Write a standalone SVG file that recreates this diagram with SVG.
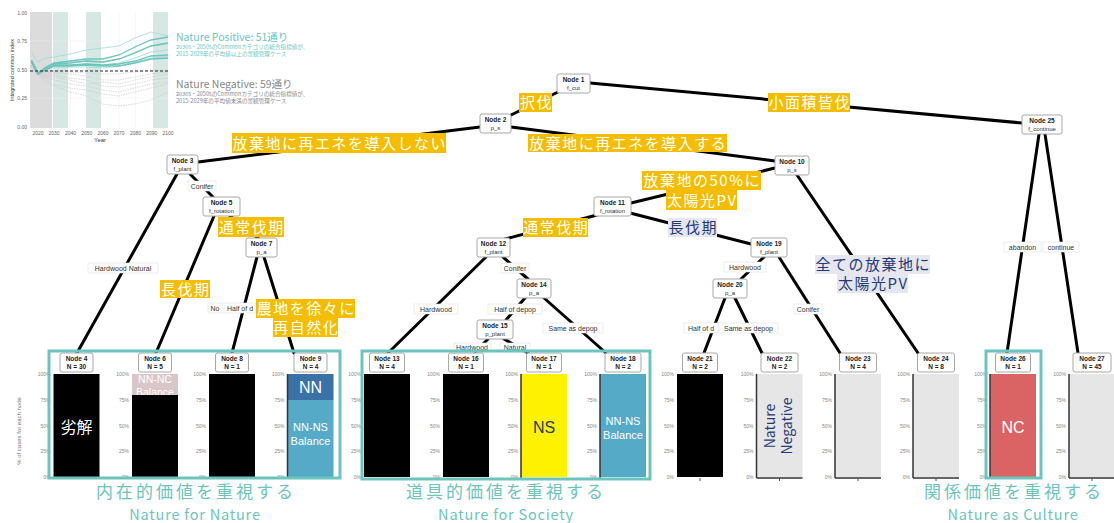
<svg xmlns="http://www.w3.org/2000/svg" width="1114" height="523" viewBox="0 0 1114 523">
<style>
.nb{fill:#fff;stroke:#a8a8a8;stroke-width:1}
.nt{font-family:"Liberation Sans",Arial,sans-serif;font-size:6.5px;font-weight:bold;fill:#222;text-anchor:middle}
.ns{font-family:"Liberation Sans",Arial,sans-serif;font-size:6px;fill:#333;text-anchor:middle}
.ed{stroke:#000;stroke-width:3;stroke-linecap:round;fill:none}
.el rect{fill:#fff;stroke:#e2e2e2;stroke-width:0.6}
.el text{font-family:"Liberation Sans",Arial,sans-serif;font-size:7px;fill:#333;text-anchor:middle}
.yl rect{fill:#f5bd00}
.yl text{font-family:"Noto Sans CJK JP",sans-serif;font-size:15px;fill:#fff;text-anchor:middle;letter-spacing:1.5px}
.bl rect{fill:#e6e6ee}
.bl text{font-family:"Noto Sans CJK JP",sans-serif;font-size:15px;fill:#1f3a78;text-anchor:middle;letter-spacing:1.5px}
.tk{font-family:"Liberation Sans",Arial,sans-serif;font-size:5px;fill:#888;text-anchor:end}
.ax{stroke:#333;stroke-width:1.5}
.bt{font-family:"Liberation Sans",Arial,sans-serif;fill:#fff;text-anchor:middle}
.bj{font-family:"Noto Sans CJK JP",sans-serif;fill:#fff;text-anchor:middle}
.tb{fill:none;stroke:#6cc5bd;stroke-width:3}
.gl{font-family:"Noto Sans CJK JP",sans-serif;fill:#6cc5bd;text-anchor:middle}
.ct{font-family:"Liberation Sans",Arial,sans-serif;font-size:5px;fill:#666}
.tl{fill:none;stroke:#6cc5bd;stroke-width:1.3}
.tl2{fill:none;stroke:#9ddbd3;stroke-width:0.8}
.gy{fill:none;stroke:#c8c8c8;stroke-width:0.7;stroke-dasharray:1.5 1}
</style>

<!-- inset chart -->
<g id="inset">
  <rect x="30" y="12" width="140" height="116" fill="#fff"/>
  <rect x="30" y="12" width="22" height="116" fill="#dcdcdc"/>
  <rect x="53" y="12" width="15" height="116" fill="#d6e8e4"/>
  <rect x="86" y="12" width="15" height="116" fill="#d6e8e4"/>
  <rect x="153" y="12" width="15" height="116" fill="#d6e8e4"/>
  <g stroke="#eeeeee" stroke-width="0.5">
    <line x1="30" y1="41" x2="170" y2="41"/><line x1="30" y1="98" x2="170" y2="98"/>
    <line x1="70.5" y1="12" x2="70.5" y2="128"/><line x1="119" y1="12" x2="119" y2="128"/><line x1="135.5" y1="12" x2="135.5" y2="128"/>
  </g>
  <polyline class="gy" points="31.5,66 34.75,70 38,74 46,78 54,80 70,84 86,86 103,90 119,92 135,88 151,84 168,82"/>
  <polyline class="gy" points="31.5,64 34.75,69 38,73 46,76 54,75 70,78 86,80 103,86 119,87 135,84 151,80 168,78"/>
  <polyline class="gy" points="31.5,62 34.75,68 38,72 46,74 54,73 70,74 86,76 103,80 119,80 135,77 151,74 168,72"/>
  <polyline class="gy" points="31.5,67 34.75,72 38,75 46,82 54,86 70,92 86,96 103,104 119,106 135,104 151,100 168,92"/>
  <polyline class="gy" points="31.5,63 34.75,70 38,73 46,80 54,84 70,88 86,90 103,94 119,96 135,92 151,88 168,84"/>
  <polyline class="gy" points="31.5,65 34.75,71 38,74 46,77 54,77 70,80 86,84 103,82 119,84 135,80 151,77 168,74"/>
  <polyline class="gy" points="31.5,66 34.75,70 38,74 46,72 54,72 70,72 86,73 103,74 119,74 135,72 151,70 168,70"/>
  <polyline class="tl2" points="31.5,52 34.75,58 38,62 46,58 54,57 70,54 86,50 103,48 119,46 135,38 151,32 168,36"/>
  <polyline class="tl2" points="31.5,60 34.75,66 38,73 46,67 54,64 70,62 86,61 103,62 119,59 135,52 151,46 168,44"/>
  <polyline class="tl2" points="31.5,61 34.75,67 38,73 46,68 54,66 70,65 86,64 103,65 119,63 135,58 151,52 168,50"/>
  <polyline class="tl2" points="31.5,62 34.75,67 38,73 46,69 54,67 70,67 86,67 103,68 119,66 135,62 151,58 168,56"/>
  <polyline class="tl" points="31.5,60 34.75,66 38,73 46,67 54,63 70,61 86,59 103,59 119,55 135,47 151,40 168,37"/>
  <polyline class="tl" points="31.5,61 34.75,67 38,73 46,68 54,64 70,63 86,61 103,62 119,59 135,53 151,46 168,43"/>
  <polyline class="tl" points="31.5,62 34.75,68 38,74 46,69 54,65 70,65 86,64 103,65 119,64 135,61 151,56 168,55"/>
  <polyline class="tl" points="31.5,62 34.75,68 38,74 46,70 54,66 70,66 86,65 103,66 119,66 135,63 151,59 168,58"/>
  <line x1="30" y1="71" x2="170" y2="71" stroke="#222" stroke-width="1.2" stroke-dasharray="3 2"/>
  <g class="ct" text-anchor="end">
    <text x="27" y="15">1.00</text><text x="27" y="43">0.75</text><text x="27" y="72">0.50</text><text x="27" y="100">0.25</text><text x="27" y="129">0.00</text>
  </g>
  <g class="ct" text-anchor="middle">
    <text x="38" y="135" text-anchor="middle">2020</text><text x="54" y="135" text-anchor="middle">2030</text><text x="70.5" y="135" text-anchor="middle">2040</text><text x="86.75" y="135" text-anchor="middle">2050</text><text x="103" y="135" text-anchor="middle">2060</text><text x="119" y="135" text-anchor="middle">2070</text><text x="135.5" y="135" text-anchor="middle">2080</text><text x="151.75" y="135" text-anchor="middle">2090</text><text x="168" y="135" text-anchor="middle">2100</text>
  </g>
  <text x="100" y="142" font-family="Liberation Sans, Arial, sans-serif" font-size="6" fill="#444" text-anchor="middle">Year</text>
  <text transform="translate(14,70) rotate(-90)" font-family="Liberation Sans, Arial, sans-serif" font-size="5.5" fill="#444" text-anchor="middle">Integrated common index</text>
  <text x="176" y="41" font-family="Noto Sans CJK JP, sans-serif" font-size="10.5" fill="#6cc5bd">Nature Positive: 51通り</text>
  <text x="176" y="48.5" font-family="Noto Sans CJK JP, sans-serif" font-size="5.6" fill="#6cc5bd">2030s・2050sのCommonカテゴリの統合指標値が、</text>
  <text x="176" y="55.5" font-family="Noto Sans CJK JP, sans-serif" font-size="5.6" fill="#6cc5bd">2015-2029年の平均値以上の景観管理ケース</text>
  <text x="176" y="88" font-family="Noto Sans CJK JP, sans-serif" font-size="10.5" fill="#888">Nature Negative: 59通り</text>
  <text x="176" y="95.5" font-family="Noto Sans CJK JP, sans-serif" font-size="5.6" fill="#888">2030s・2050sのCommonカテゴリの統合指標値が、</text>
  <text x="176" y="102.5" font-family="Noto Sans CJK JP, sans-serif" font-size="5.6" fill="#888">2015-2029年の平均値未満の景観管理ケース</text>
</g>

<!-- connectors -->
<g id="connectors">
  <line class="ed" x1="558" y1="92" x2="511" y2="115"/>
  <line class="ed" x1="590" y1="83" x2="1022" y2="123"/>
  <line class="ed" x1="480" y1="127" x2="198" y2="162"/>
  <line class="ed" x1="511" y1="127" x2="775" y2="161"/>
  <line class="ed" x1="177" y1="174" x2="77" y2="353"/>
  <line class="ed" x1="190" y1="174" x2="213" y2="197"/>
  <line class="ed" x1="214" y1="216" x2="156" y2="353"/>
  <line class="ed" x1="230" y1="216" x2="258" y2="238"/>
  <line class="ed" x1="257" y1="257" x2="232" y2="353"/>
  <line class="ed" x1="264" y1="257" x2="294" y2="353"/>
  <line class="ed" x1="775" y1="168" x2="631" y2="203"/>
  <line class="ed" x1="797" y1="175" x2="918" y2="353"/>
  <line class="ed" x1="597" y1="215" x2="505" y2="239"/>
  <line class="ed" x1="630" y1="213" x2="751" y2="244"/>
  <line class="ed" x1="486" y1="257" x2="388" y2="353"/>
  <line class="ed" x1="503" y1="257" x2="528" y2="279"/>
  <line class="ed" x1="525" y1="298" x2="506" y2="320"/>
  <line class="ed" x1="544" y1="298" x2="606" y2="353"/>
  <line class="ed" x1="488" y1="339" x2="475" y2="352"/>
  <line class="ed" x1="504" y1="339" x2="528" y2="353"/>
  <line class="ed" x1="764" y1="257" x2="741" y2="279"/>
  <line class="ed" x1="779" y1="257" x2="840" y2="353"/>
  <line class="ed" x1="725" y1="298" x2="704" y2="353"/>
  <line class="ed" x1="735" y1="298" x2="762" y2="353"/>
  <line class="ed" x1="1039" y1="134" x2="1007" y2="353"/>
  <line class="ed" x1="1045" y1="134" x2="1078" y2="353"/>
</g>

<!-- edge labels -->
<g id="edge-labels" class="el">
  <rect x="88" y="263" width="70" height="10"/><text x="123" y="270.5">Hardwood Natural</text>
  <rect x="188" y="181" width="28" height="10"/><text x="202" y="188.5">Conifer</text>
  <rect x="208" y="303" width="14" height="10"/><text x="215" y="310.5">No</text>
  <rect x="224" y="303" width="32" height="10"/><text x="240" y="310.5">Half of d</text>
  <rect x="501" y="263" width="28" height="10"/><text x="515" y="270.5">Conifer</text>
  <rect x="414" y="304" width="44" height="10"/><text x="436" y="311.5">Hardwood</text>
  <rect x="488" y="304" width="54" height="10"/><text x="515" y="311.5">Half of depop</text>
  <rect x="543" y="323" width="60" height="10"/><text x="573" y="330.5">Same as depop</text>
  <rect x="454" y="343" width="37" height="9"/><text x="472" y="350">Hardwood</text>
  <rect x="500" y="343" width="30" height="9"/><text x="515" y="350">Natural</text>
  <rect x="724" y="262" width="42" height="10"/><text x="745" y="269.5">Hardwood</text>
  <rect x="684" y="323" width="34" height="10"/><text x="701" y="330.5">Half of d</text>
  <rect x="719" y="323" width="59" height="10"/><text x="748.5" y="330.5">Same as depop</text>
  <rect x="794" y="304" width="28" height="10"/><text x="808" y="311.5">Conifer</text>
  <rect x="1004" y="242" width="37" height="10"/><text x="1022.5" y="249.5">abandon</text>
  <rect x="1043" y="242" width="36" height="10"/><text x="1061" y="249.5">continue</text>
</g>

<!-- highlighted labels -->
<g id="labels">
  <g class="yl">
    <rect x="519" y="93" width="33" height="19"/><text x="536.5" y="108">択伐</text>
    <rect x="768" y="93" width="82" height="19"/><text x="809.75" y="108">小面積皆伐</text>
    <rect x="232" y="133" width="214" height="20"/><text x="339.75" y="148.5">放棄地に再エネを導入しない</text>
    <rect x="528" y="134" width="199" height="18"/><text x="628.25" y="148.5">放棄地に再エネを導入する</text>
    <rect x="218" y="217" width="66" height="20"/><text x="251.75" y="232.5">通常伐期</text>
    <rect x="160" y="280" width="50" height="18"/><text x="185.75" y="294.5">長伐期</text>
    <rect x="256" y="299" width="99" height="19"/><text x="306.25" y="314">農地を徐々に</text>
    <rect x="273" y="318" width="65" height="19"/><text x="306.25" y="333">再自然化</text>
    <rect x="642" y="171" width="119" height="19"/><text x="702.25" y="186">放棄地の50%に</text>
    <rect x="666" y="190" width="71" height="20"/><text x="702.25" y="205.5">太陽光PV</text>
    <rect x="523" y="218" width="65" height="19"/><text x="556.25" y="233">通常伐期</text>
  </g>
  <g class="bl">
    <rect x="668" y="218" width="49" height="19"/><text x="693.25" y="233">長伐期</text>
    <rect x="815" y="255" width="115" height="19"/><text x="873.25" y="270">全ての放棄地に</text>
    <rect x="837" y="274" width="71" height="19"/><text x="873.25" y="289">太陽光PV</text>
  </g>
</g>

<!-- y axis title -->
<text transform="translate(21,431) rotate(-90)" font-family="Liberation Sans, Arial, sans-serif" font-size="6" fill="#777" text-anchor="middle">% of cases for each node</text>

<!-- leaf bars -->
<g id="bars">
  <g id="axes" class="tk">
    <g transform="translate(76.5,0)"><text x="-26" y="376">100%</text><text x="-26" y="402">75%</text><text x="-26" y="428">50%</text><text x="-26" y="453">25%</text><text x="-26" y="479">0%</text></g>
    <g transform="translate(155,0)"><text x="-26" y="376">100%</text><text x="-26" y="402">75%</text><text x="-26" y="428">50%</text><text x="-26" y="453">25%</text><text x="-26" y="479">0%</text></g>
    <g transform="translate(232,0)"><text x="-26" y="376">100%</text><text x="-26" y="402">75%</text><text x="-26" y="428">50%</text><text x="-26" y="453">25%</text><text x="-26" y="479">0%</text></g>
    <g transform="translate(310.5,0)"><text x="-26" y="376">100%</text><text x="-26" y="402">75%</text><text x="-26" y="428">50%</text><text x="-26" y="453">25%</text><text x="-26" y="479">0%</text></g>
    <g transform="translate(387,0)"><text x="-26" y="376">100%</text><text x="-26" y="402">75%</text><text x="-26" y="428">50%</text><text x="-26" y="453">25%</text><text x="-26" y="479">0%</text></g>
    <g transform="translate(466,0)"><text x="-26" y="376">100%</text><text x="-26" y="402">75%</text><text x="-26" y="428">50%</text><text x="-26" y="453">25%</text><text x="-26" y="479">0%</text></g>
    <g transform="translate(544,0)"><text x="-26" y="376">100%</text><text x="-26" y="402">75%</text><text x="-26" y="428">50%</text><text x="-26" y="453">25%</text><text x="-26" y="479">0%</text></g>
    <g transform="translate(623,0)"><text x="-26" y="376">100%</text><text x="-26" y="402">75%</text><text x="-26" y="428">50%</text><text x="-26" y="453">25%</text><text x="-26" y="479">0%</text></g>
    <g transform="translate(700,0)"><text x="-26" y="376">100%</text><text x="-26" y="402">75%</text><text x="-26" y="428">50%</text><text x="-26" y="453">25%</text><text x="-26" y="479">0%</text></g>
    <g transform="translate(779.5,0)"><text x="-26" y="376">100%</text><text x="-26" y="402">75%</text><text x="-26" y="428">50%</text><text x="-26" y="453">25%</text><text x="-26" y="479">0%</text></g>
    <g transform="translate(858,0)"><text x="-26" y="376">100%</text><text x="-26" y="402">75%</text><text x="-26" y="428">50%</text><text x="-26" y="453">25%</text><text x="-26" y="479">0%</text></g>
    <g transform="translate(936,0)"><text x="-26" y="376">100%</text><text x="-26" y="402">75%</text><text x="-26" y="428">50%</text><text x="-26" y="453">25%</text><text x="-26" y="479">0%</text></g>
    <g transform="translate(1013,0)"><text x="-26" y="376">100%</text><text x="-26" y="402">75%</text><text x="-26" y="428">50%</text><text x="-26" y="453">25%</text><text x="-26" y="479">0%</text></g>
    <g transform="translate(1092,0)"><text x="-26" y="376">100%</text><text x="-26" y="402">75%</text><text x="-26" y="428">50%</text><text x="-26" y="453">25%</text><text x="-26" y="479">0%</text></g>
  </g>
  <rect x="53.5" y="374" width="46" height="103" fill="#000"/>
  <text class="bj" x="76.5" y="433" font-size="16">劣解</text>
  <rect x="132" y="374" width="46" height="21" fill="#d9c6c8"/>
  <text class="bt" x="155" y="383" font-size="10.5">NN-NC</text>
  <text class="bt" x="155" y="396" font-size="10.5">Balance</text>
  <rect x="132" y="395" width="46" height="82" fill="#000"/>
  <rect x="209" y="374" width="46" height="103" fill="#000"/>
  <rect x="287.5" y="374" width="46" height="26" fill="#3a72a8"/>
  <rect x="287.5" y="400" width="46" height="77" fill="#55aac8"/>
  <text class="bt" x="310.5" y="393" font-size="16">NN</text>
  <text class="bt" x="310.5" y="431" font-size="11">NN-NS</text>
  <text class="bt" x="310.5" y="445" font-size="11">Balance</text>
  <rect x="364" y="374" width="46" height="103" fill="#000"/>
  <rect x="443" y="374" width="46" height="103" fill="#000"/>
  <rect x="521" y="374" width="46" height="103" fill="#fff200"/>
  <text class="bt" x="544" y="433" font-size="16" style="fill:#1f3a78">NS</text>
  <rect x="600" y="374" width="46" height="103" fill="#55aac8"/>
  <text class="bt" x="623" y="425" font-size="11">NN-NS</text>
  <text class="bt" x="623" y="439" font-size="11">Balance</text>
  <rect x="677" y="374" width="46" height="103" fill="#000"/>
  <rect x="756.5" y="374" width="46" height="103" fill="#e6e6e6"/>
  <text transform="translate(775,426) rotate(-90)" font-family="Noto Sans CJK JP, sans-serif" font-size="14" fill="#1f3a78" text-anchor="middle">Nature</text>
  <text transform="translate(792,426) rotate(-90)" font-family="Noto Sans CJK JP, sans-serif" font-size="14" fill="#1f3a78" text-anchor="middle">Negative</text>
  <rect x="835" y="374" width="46" height="103" fill="#e6e6e6"/>
  <rect x="913" y="374" width="46" height="103" fill="#e6e6e6"/>
  <rect x="990" y="374" width="46" height="103" fill="#da6464"/>
  <text class="bt" x="1013" y="433" font-size="16">NC</text>
  <rect x="1069" y="374" width="46" height="103" fill="#e6e6e6"/>
  <g class="ax">
    <line x1="756.5" y1="374" x2="756.5" y2="478"/><line x1="835" y1="374" x2="835" y2="478"/>
    <line x1="913" y1="374" x2="913" y2="478"/><line x1="990" y1="374" x2="990" y2="478"/>
    <line x1="1069" y1="374" x2="1069" y2="478"/><line x1="287.5" y1="374" x2="287.5" y2="478"/>
    <line x1="521" y1="374" x2="521" y2="478"/><line x1="600" y1="374" x2="600" y2="478"/>
    <line x1="756.5" y1="478" x2="802.5" y2="478"/><line x1="835" y1="478" x2="881" y2="478"/>
    <line x1="913" y1="478" x2="959" y2="478"/><line x1="1069" y1="478" x2="1114" y2="478"/>
  </g>
  <g stroke="#555" stroke-width="1">
    <line x1="779.5" y1="478" x2="779.5" y2="481"/><line x1="858" y1="478" x2="858" y2="481"/>
    <line x1="936" y1="478" x2="936" y2="481"/><line x1="1092" y1="478" x2="1092" y2="481"/>
    <line x1="700" y1="478" x2="700" y2="481"/>
  </g>
</g>

<!-- internal nodes -->
<g id="node1"><rect class="nb" x="557" y="74" width="33" height="19" rx="2"/><text class="nt" x="573.5" y="82">Node 1</text><text class="ns" x="573.5" y="89.5">f_cut</text></g>
<g id="node2"><rect class="nb" x="480" y="114" width="31" height="19" rx="2"/><text class="nt" x="495.5" y="122">Node 2</text><text class="ns" x="495.5" y="129.5">p_s</text></g>
<g id="node3"><rect class="nb" x="167" y="155" width="31" height="19" rx="2"/><text class="nt" x="182.5" y="163">Node 3</text><text class="ns" x="182.5" y="170.5">f_plant</text></g>
<g id="node5"><rect class="nb" x="203" y="197" width="37" height="19" rx="2"/><text class="nt" x="221.5" y="205">Node 5</text><text class="ns" x="221.5" y="212.5">f_rotation</text></g>
<g id="node7"><rect class="nb" x="246" y="238" width="31" height="19" rx="2"/><text class="nt" x="261.5" y="246">Node 7</text><text class="ns" x="261.5" y="253.5">p_a</text></g>
<g id="node10"><rect class="nb" x="775" y="156" width="34" height="19" rx="2"/><text class="nt" x="792" y="164">Node 10</text><text class="ns" x="792" y="171.5">p_s</text></g>
<g id="node11"><rect class="nb" x="594" y="197" width="37" height="19" rx="2"/><text class="nt" x="612.5" y="205">Node 11</text><text class="ns" x="612.5" y="212.5">f_rotation</text></g>
<g id="node12"><rect class="nb" x="477" y="238" width="33" height="19" rx="2"/><text class="nt" x="493.5" y="246">Node 12</text><text class="ns" x="493.5" y="253.5">f_plant</text></g>
<g id="node14"><rect class="nb" x="517" y="279" width="34" height="19" rx="2"/><text class="nt" x="534" y="287">Node 14</text><text class="ns" x="534" y="294.5">p_a</text></g>
<g id="node15"><rect class="nb" x="477" y="320" width="36" height="19" rx="2"/><text class="nt" x="495" y="328">Node 15</text><text class="ns" x="495" y="335.5">p_plant</text></g>
<g id="node19"><rect class="nb" x="751" y="238" width="36" height="19" rx="2"/><text class="nt" x="769" y="246">Node 19</text><text class="ns" x="769" y="253.5">f_plant</text></g>
<g id="node20"><rect class="nb" x="713" y="279" width="34" height="19" rx="2"/><text class="nt" x="730" y="287">Node 20</text><text class="ns" x="730" y="294.5">p_a</text></g>
<g id="node25"><rect class="nb" x="1022" y="115" width="40" height="19" rx="2"/><text class="nt" x="1042" y="123">Node 25</text><text class="ns" x="1042" y="130.5">f_continue</text></g>

<!-- leaf nodes -->
<g id="node4"><rect class="nb" x="60" y="353" width="33" height="19" rx="2"/><text class="nt" x="76.5" y="361">Node 4</text><text class="nt" x="76.5" y="369">N = 30</text></g>
<g id="node6"><rect class="nb" x="138.5" y="353" width="33" height="19" rx="2"/><text class="nt" x="155" y="361">Node 6</text><text class="nt" x="155" y="369">N = 5</text></g>
<g id="node8"><rect class="nb" x="215.5" y="353" width="33" height="19" rx="2"/><text class="nt" x="232" y="361">Node 8</text><text class="nt" x="232" y="369">N = 1</text></g>
<g id="node9"><rect class="nb" x="294" y="353" width="33" height="19" rx="2"/><text class="nt" x="310.5" y="361">Node 9</text><text class="nt" x="310.5" y="369">N = 4</text></g>
<g id="node13"><rect class="nb" x="369.5" y="353" width="35" height="19" rx="2"/><text class="nt" x="387" y="361">Node 13</text><text class="nt" x="387" y="369">N = 4</text></g>
<g id="node16"><rect class="nb" x="448.5" y="353" width="35" height="19" rx="2"/><text class="nt" x="466" y="361">Node 16</text><text class="nt" x="466" y="369">N = 1</text></g>
<g id="node17"><rect class="nb" x="526.5" y="353" width="35" height="19" rx="2"/><text class="nt" x="544" y="361">Node 17</text><text class="nt" x="544" y="369">N = 1</text></g>
<g id="node18"><rect class="nb" x="605" y="353" width="36" height="19" rx="2"/><text class="nt" x="623" y="361">Node 18</text><text class="nt" x="623" y="369">N = 2</text></g>
<g id="node21"><rect class="nb" x="682.5" y="353" width="35" height="19" rx="2"/><text class="nt" x="700" y="361">Node 21</text><text class="nt" x="700" y="369">N = 2</text></g>
<g id="node22"><rect class="nb" x="761" y="353" width="37" height="19" rx="2"/><text class="nt" x="779.5" y="361">Node 22</text><text class="nt" x="779.5" y="369">N = 2</text></g>
<g id="node23"><rect class="nb" x="839.5" y="353" width="37" height="19" rx="2"/><text class="nt" x="858" y="361">Node 23</text><text class="nt" x="858" y="369">N = 4</text></g>
<g id="node24"><rect class="nb" x="917.5" y="353" width="37" height="19" rx="2"/><text class="nt" x="936" y="361">Node 24</text><text class="nt" x="936" y="369">N = 8</text></g>
<g id="node26"><rect class="nb" x="995.5" y="353" width="35" height="19" rx="2"/><text class="nt" x="1013" y="361">Node 26</text><text class="nt" x="1013" y="369">N = 1</text></g>
<g id="node27"><rect class="nb" x="1073" y="353" width="38" height="19" rx="2"/><text class="nt" x="1092" y="361">Node 27</text><text class="nt" x="1092" y="369">N = 45</text></g>

<!-- value groups -->
<g id="groups">
  <rect class="tb" x="49" y="351" width="291" height="127"/>
  <rect class="tb" x="362" y="351" width="288" height="128"/>
  <rect class="tb" x="986" y="351" width="55" height="127"/>
  <text class="gl" x="196" y="498" font-size="17" letter-spacing="3">内在的価値を重視する</text>
  <text class="gl" x="195" y="519.5" font-size="14.5" letter-spacing="0.8">Nature for Nature</text>
  <text class="gl" x="506" y="498" font-size="17" letter-spacing="3">道具的価値を重視する</text>
  <text class="gl" x="506" y="519.5" font-size="14.5" letter-spacing="0.8">Nature for Society</text>
  <text class="gl" x="1014" y="498" font-size="17" letter-spacing="3">関係価値を重視する</text>
  <text class="gl" x="1013" y="519.5" font-size="14.5" letter-spacing="0.8">Nature as Culture</text>
</g>
</svg>
